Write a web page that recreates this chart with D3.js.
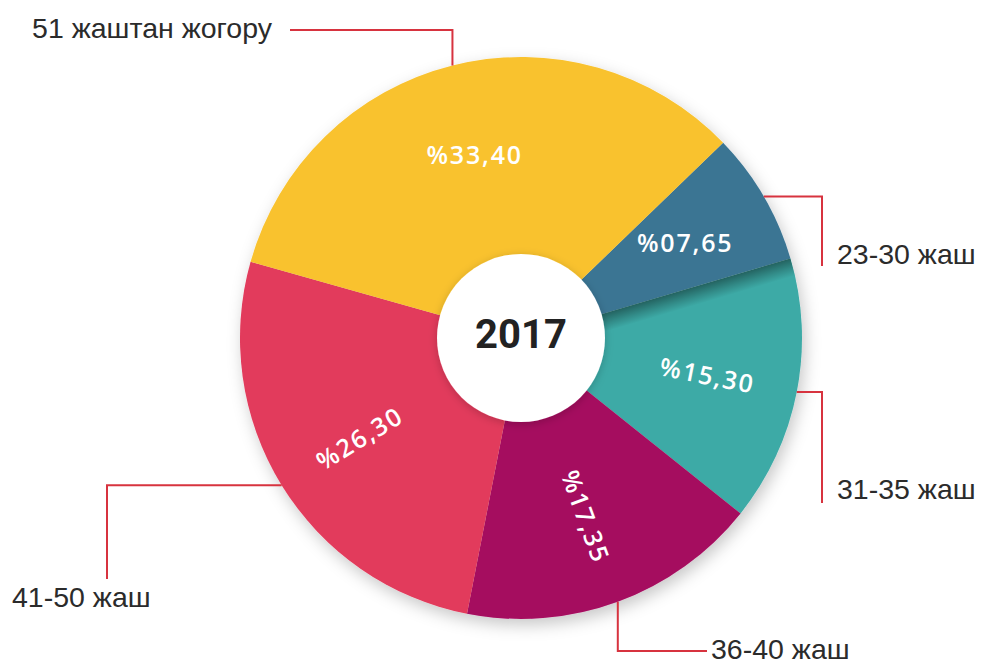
<!DOCTYPE html>
<html>
<head>
<meta charset="UTF-8">
<title>2017</title>
<style>
  body { margin: 0; overflow: hidden; background: white; }
  svg { display: block; background: white; }
  .cat { font-family: "Liberation Sans", Arial, sans-serif; font-size: 28.5px; fill: #2b2b2b; }
  .pct { font-family: "Open Sans", "Noto Sans", sans-serif; font-weight: 600; font-size: 25px; fill: #fff; letter-spacing: 1.8px; }
  .year { font-family: Roboto, "Liberation Sans", sans-serif; font-weight: 700; font-size: 40px; fill: #222; }
  .leader { fill: none; stroke: #d7333f; stroke-width: 2; }
</style>
<script src="https://cdnjs.cloudflare.com/ajax/libs/d3/7.8.5/d3.min.js"></script>
</head>
<body>
<div id="chart"></div>
<script>
const categories = ["23-30 жаш", "31-35 жаш", "36-40 жаш", "41-50 жаш", "51 жаштан жогору"];
const shares = [7.65, 15.30, 17.35, 26.30, 33.40];
const shareLabels = ["%07,65", "%15,30", "%17,35", "%26,30", "%33,40"];
const yearLabel = "2017";

const width = 982, height = 668;
const cx = 521, cy = 338, outerR = 281, innerR = 84;
const startDeg = 46;

const color = d3.scaleOrdinal()
  .domain(categories)
  .range(["#3b7493", "#3caaa6", "#a5095e", "#e23b5b", "#f9c22f"]);

// where the category names sit, and how the leader bends to reach them
const labelLayout = {
  "23-30 жаш":        {x: 837, y: 264, anchor: "start", bend: "h", ex: 822, ey: 266},
  "31-35 жаш":        {x: 837, y: 499, anchor: "start", bend: "h", ex: 822, ey: 503},
  "36-40 жаш":        {x: 711, y: 659, anchor: "start", bend: "v", ex: 707, ey: 651},
  "41-50 жаш":        {x: 12,  y: 607, anchor: "start", bend: "h", ex: 107, ey: 579},
  "51 жаштан жогору": {x: 272, y: 38,  anchor: "end",   bend: "v", ex: 290, ey: 30}
};

const rows = categories.map((c, i) => ({name: c, value: shares[i], label: shareLabels[i]}));

const svg = d3.select("#chart").append("svg")
  .attr("width", width)
  .attr("height", height);

const defs = svg.append("defs");
const sh = defs.append("filter").attr("id", "shadow")
  .attr("x", "-20%").attr("y", "-20%").attr("width", "140%").attr("height", "140%");
sh.append("feDropShadow").attr("dx", 3).attr("dy", 6).attr("stdDeviation", 8)
  .attr("flood-color", "#000").attr("flood-opacity", 0.22);
const sh2 = defs.append("filter").attr("id", "shadow2")
  .attr("x", "-30%").attr("y", "-30%").attr("width", "160%").attr("height", "160%");
sh2.append("feDropShadow").attr("dx", 0).attr("dy", 2).attr("stdDeviation", 4)
  .attr("flood-color", "#000").attr("flood-opacity", 0.2);

const band = defs.append("linearGradient").attr("id", "band")
  .attr("x1", 0).attr("y1", 0).attr("x2", 0).attr("y2", 1);
band.append("stop").attr("offset", 0).attr("stop-color", "#000").attr("stop-opacity", 0.42);
band.append("stop").attr("offset", 0.55).attr("stop-color", "#000").attr("stop-opacity", 0.18);
band.append("stop").attr("offset", 1).attr("stop-color", "#000").attr("stop-opacity", 0);

const pie = d3.pie()
  .sort(null)
  .value(d => d.value)
  .startAngle(startDeg * Math.PI / 180)
  .endAngle(startDeg * Math.PI / 180 + 2 * Math.PI);

const arcs = pie(rows);
const arc = d3.arc().innerRadius(0).outerRadius(outerR);
const labelArc = d3.arc().innerRadius(190).outerRadius(190);

const g = svg.append("g").attr("transform", `translate(${cx},${cy})`);

const pieG = g.append("g").attr("filter", "url(#shadow)");
pieG.selectAll("path.slice")
  .data(arcs)
  .enter().append("path")
  .attr("class", "slice")
  .attr("d", arc)
  .attr("fill", d => color(d.data.name));

// folded-paper look: each slice is shaded along its start edge,
// the top slice throws its shadow onto the slice before it instead
const n = arcs.length;
const edges = [];
arcs.forEach((d, i) => { if (i < n - 1) edges.push({i, angle: d.startAngle, dir: 1}); });
edges.push({i: n - 2, angle: arcs[n - 2].endAngle, dir: -1});

arcs.forEach((d, i) => {
  defs.append("clipPath").attr("id", "clip" + i)
    .append("path").attr("d", arc(d));
});

g.selectAll("rect.band")
  .data(edges)
  .enter().append("rect")
  .attr("class", "band")
  .attr("clip-path", e => `url(#clip${e.i})`)
  .attr("x", innerR - 4)
  .attr("y", 0)
  .attr("width", outerR - innerR + 8)
  .attr("height", 18)
  .attr("fill", "url(#band)")
  .attr("transform", e => `rotate(${e.angle * 180 / Math.PI - 90}) scale(1,${e.dir})`);

g.append("circle")
  .attr("r", innerR)
  .attr("fill", "#fff")
  .attr("filter", "url(#shadow2)");

g.append("text")
  .attr("class", "year")
  .attr("y", -4)
  .attr("text-anchor", "middle")
  .attr("dominant-baseline", "central")
  .text(yearLabel);

g.selectAll("text.pct")
  .data(arcs)
  .enter().append("text")
  .attr("class", "pct")
  .attr("text-anchor", "middle")
  .attr("dominant-baseline", "central")
  .attr("transform", d => {
    const [x, y] = labelArc.centroid(d);
    const mid = (d.startAngle + d.endAngle) / 2;
    let rot = 0;
    if (Math.cos(mid) <= 0.3) {
      rot = mid * 180 / Math.PI - 90;
      if (rot > 90) rot -= 180;
    }
    return `translate(${x},${y}) rotate(${rot})`;
  })
  .text(d => d.data.label);

// leaders from the rim of each slice out to its name
const leaderPts = d => {
  const lay = labelLayout[d.data.name];
  const mid = (d.startAngle + d.endAngle) / 2;
  const ax = cx + outerR * Math.sin(mid);
  const ay = cy - outerR * Math.cos(mid);
  if (lay.bend === "h") return [[ax, ay], [lay.ex, ay], [lay.ex, lay.ey]];
  return [[ax, ay], [ax, lay.ey], [lay.ex, lay.ey]];
};

svg.selectAll("path.leader")
  .data(arcs)
  .enter().append("path")
  .attr("class", "leader")
  .attr("d", d => d3.line()(leaderPts(d)));

svg.selectAll("text.cat")
  .data(arcs)
  .enter().append("text")
  .attr("class", "cat")
  .attr("x", d => labelLayout[d.data.name].x)
  .attr("y", d => labelLayout[d.data.name].y)
  .attr("text-anchor", d => labelLayout[d.data.name].anchor)
  .text(d => d.data.name);
</script>
</body>
</html>
